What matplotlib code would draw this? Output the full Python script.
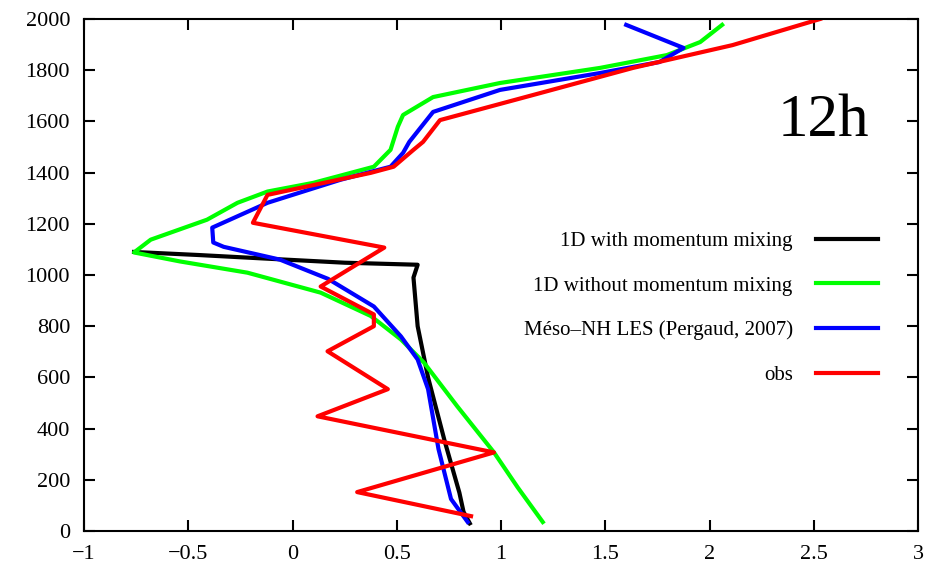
import numpy as np
import matplotlib
matplotlib.use('Agg')
from matplotlib import pyplot as plt

# vertical profiles at 12h: wind component (x) vs height (m)
black_u = [0.85, 0.82, 0.80, 0.73, 0.65, 0.60, 0.58, 0.60, 0.25, -0.15, -0.45, -0.76]
black_z = [30, 75, 150, 350, 600, 800, 990, 1040, 1048, 1065, 1078, 1090]

green_u = [1.20, 1.08, 0.966, 0.79, 0.63, 0.52, 0.375, 0.135, -0.216, -0.54, -0.76,
           -0.68, -0.41, -0.264, -0.12, 0.10, 0.39, 0.47, 0.505, 0.53, 0.674, 0.995,
           1.475, 1.795, 1.955, 2.06]
green_z = [35, 170, 307, 487, 658, 748, 840, 931, 1009, 1053, 1088,
           1138, 1216, 1282, 1326, 1360, 1423, 1489, 1579, 1625, 1695, 1750,
           1809, 1859, 1910, 1977]

blue_u = [0.84, 0.76, 0.70, 0.65, 0.60, 0.52, 0.39, 0.17, -0.06, -0.33, -0.38,
          -0.385, -0.12, 0.23, 0.47, 0.53, 0.56, 0.674, 0.995, 1.475, 1.76,
          1.875, 1.60]
blue_z = [35, 125, 320, 554, 670, 760, 877, 985, 1060, 1110, 1127,
          1185, 1282, 1372, 1423, 1477, 1520, 1637, 1723, 1789, 1832,
          1887, 1977]

red_u = [0.856, 0.31, 0.966, 0.12, 0.457, 0.168, 0.39, 0.39, 0.135, 0.44, -0.19,
         -0.12, 0.375, 0.485, 0.58, 0.626, 0.707, 1.153, 1.633, 2.11, 2.53]
red_z = [58, 152, 307, 448, 554, 702, 800, 846, 955, 1107, 1204,
         1313, 1399, 1423, 1489, 1520, 1605, 1703, 1809, 1898, 2000]

labels = ['1D with momentum mixing', '1D without momentum mixing',
          'Méso\u2013NH LES (Pergaud, 2007)', 'obs']

plt.rcParams['font.family'] = ['Liberation Serif', 'DejaVu Serif']

fig = plt.figure(figsize=(9.31, 5.67), dpi=100)
ax = fig.add_axes([0.0902, 0.0635, 0.896, 0.903])

ax.plot(black_u, black_z, c='#000000', lw=3, label=labels[0])
ax.plot(green_u, green_z, c='#00ff00', lw=3, label=labels[1])
ax.plot(blue_u, blue_z, c='#0000ff', lw=3, label=labels[2])
ax.plot(red_u, red_z, c='#ff0000', lw=3, label=labels[3])

ax.set_xlim(-1, 3)
ax.set_ylim(0, 2000)
ax.set_xticks(np.arange(-1, 3.01, 0.5))
ax.set_yticks(np.arange(0, 2001, 200))
ax.set_xticklabels(['\u22121', '\u22120.5', '0', '0.5', '1', '1.5', '2', '2.5', '3'])
ax.tick_params(direction='in', length=8, width=1.5, top=True, right=True,
               labelsize=16, pad=10)
for s in ax.spines.values():
    s.set_linewidth(1.5)

ax.text(0.832, 0.8, '12h', transform=ax.transAxes, fontsize=44, va='center', ha='left')

ax.legend(loc='center right', bbox_to_anchor=(0.952, 0.435), frameon=False,
          markerfirst=False, fontsize=15, handlelength=3.0, handletextpad=1.1,
          labelspacing=1.2, borderpad=0, borderaxespad=0)

plt.savefig('out.png')
plt.close()
